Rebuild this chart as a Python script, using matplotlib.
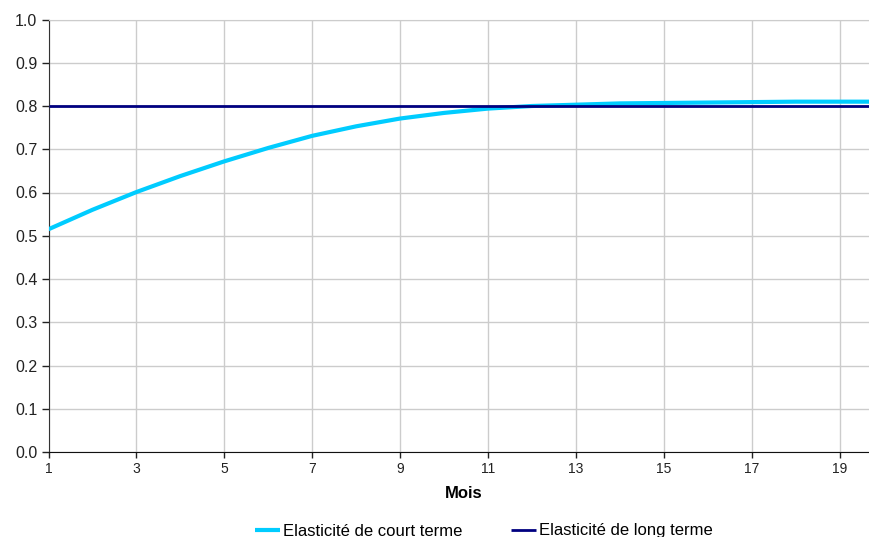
import numpy as np
import matplotlib.pyplot as plt

plt.rcParams['font.family'] = ['Liberation Sans', 'DejaVu Sans']

mois = list(range(1, 21))
court_terme = [0.515, 0.560, 0.601, 0.638, 0.672, 0.703, 0.731, 0.753, 0.771, 0.784,
               0.794, 0.800, 0.803, 0.806, 0.807, 0.808, 0.809, 0.810, 0.810, 0.810]
long_terme = [0.8] * len(mois)

x_ticks = list(range(1, 20, 2))
y_ticks = np.round(np.arange(0, 1.01, 0.1), 1)


def plot_elasticites():
    fig = plt.figure(figsize=(8.69, 5.37), dpi=100)
    # axes run a bit past the right edge of the figure
    ax = fig.add_axes([48.5 / 869, 1 - 452 / 537, 835 / 869, 432.5 / 537])

    ax.plot(mois, court_terme, color='#00ccff', lw=3, solid_capstyle='butt',
            label='Elasticité de court terme', zorder=3)
    ax.plot(mois, long_terme, color='#000080', lw=2, solid_capstyle='butt',
            label='Elasticité de long terme', zorder=4)

    ax.set_xlim(1, 20)
    ax.set_ylim(0, 1)
    ax.set_xticks(x_ticks)
    ax.set_yticks(y_ticks)
    ax.set_yticklabels([f'{v:.1f}' for v in y_ticks], fontsize=11.5)
    ax.set_xticklabels([str(v) for v in x_ticks], fontsize=10)
    ax.tick_params(axis='y', length=5, width=1, pad=3, colors='#222222')
    ax.tick_params(axis='x', length=4, width=1, pad=3, colors='#222222')

    ax.grid(True, color='#cccccc', lw=1)
    ax.set_axisbelow(True)
    for side in ['top', 'right']:
        ax.spines[side].set_color('#cccccc')
    ax.spines['left'].set_color('#333333')
    ax.spines['bottom'].set_color('#111111')

    ax.set_xlabel('Mois', fontsize=12, fontweight='bold')
    ax.xaxis.set_label_coords(463.5 / 835 - 48.5 / 835, -41 / 432.5)
    ax.xaxis.label.set_verticalalignment('center')

    fig.legend(loc='center', bbox_to_anchor=(484 / 869, 1 - 531 / 537), ncol=2,
               frameon=False, fontsize=12, handlelength=1.5, handletextpad=0.2,
               columnspacing=2.9, borderpad=0.2)

    fig.savefig('out.png', dpi=100)


def main():
    plot_elasticites()


if __name__ == '__main__':
    main()
